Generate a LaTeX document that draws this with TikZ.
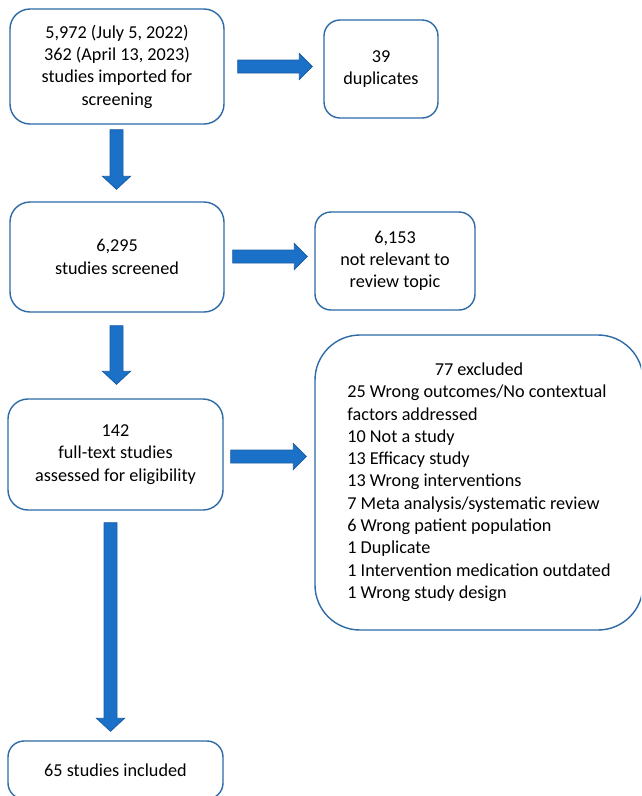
\documentclass[tikz,border=0pt]{standalone}
\usepackage{fontspec}
\setmainfont{Carlito}
\usetikzlibrary{calc}
\definecolor{boxline}{HTML}{2E6AA6}
\definecolor{arrfill}{HTML}{1B70C8}
\definecolor{arrline}{HTML}{1A5EA5}
\tikzset{
  box/.style={draw=boxline, line width=1.4pt, rounded corners=#1, fill=white,
    align=center, inner sep=0pt, font=\fontsize{18.2}{22.3}\selectfont},
  blockarr/.style={fill=arrfill, draw=arrline, line width=0.8pt, line join=miter}
}
\newcommand\harr[2]{\filldraw[blockarr] let \p1=(#1), \p2=(#2) in
  (\x1,\y1+6.5pt) -- (\x2-13pt,\y1+6.5pt) -- (\x2-13pt,\y1+13pt) -- (\x2,\y1)
  -- (\x2-13pt,\y1-13pt) -- (\x2-13pt,\y1-6.5pt) -- (\x1,\y1-6.5pt) -- cycle;}
\newcommand\varr[2]{\filldraw[blockarr] let \p1=(#1), \p2=(#2) in
  (\x1-6.5pt,\y1) -- (\x1-6.5pt,\y2+13pt) -- (\x1-14pt,\y2+13pt) -- (\x1,\y2)
  -- (\x1+14pt,\y2+13pt) -- (\x1+6.5pt,\y2+13pt) -- (\x1+6.5pt,\y1) -- cycle;}
\begin{document}
\begin{tikzpicture}[x=1pt,y=-1pt]
\useasboundingbox (0,0) rectangle (641,796);
\clip (0,0) rectangle (641,796);
\fill[white] (0,0) rectangle (641,796);
% boxes
\node[box=20pt, minimum width=214pt, minimum height=115pt] (b1) at (117,66.5)
  {5,972 (July 5, 2022)\\362 (April 13, 2023)\\studies imported for\\screening};
\node[box=16pt, minimum width=114pt, minimum height=98pt] (b2) at (381,69)
  {39\\duplicates};
\node[box=20pt, minimum width=214pt, minimum height=110pt] (b3) at (117,257)
  {6,295\\studies screened};
\node[box=16pt, minimum width=160pt, minimum height=98pt] (b4) at (395,261)
  {6,153\\not relevant to\\review topic};
\node[box=20pt, minimum width=215pt, minimum height=111pt] (b5) at (115.5,454.5)
  {142\\full-text studies\\assessed for eligibility};
\node[box=45pt, minimum width=328pt, minimum height=295pt] (b6) at (479,482.5)
  {\begin{tabular}{@{}l@{}}
   \multicolumn{1}{@{}c@{}}{77 excluded}\\
   25 Wrong outcomes/No contextual\\
   factors addressed\\
   10 Not a study\\
   13 Efficacy study\\
   13 Wrong interventions\\
   7 Meta analysis/systematic review\\
   6 Wrong patient population\\
   1 Duplicate\\
   1 Intervention medication outdated\\
   1 Wrong study design
   \end{tabular}};
\node[box=16pt, minimum width=215pt, minimum height=58pt] (b7) at (115.5,770)
  {65 studies included};
% arrows
\harr{$(b1.east)+(13,0)$}{$(b2.west)+(-11,0)$}
\harr{$(b3.east)+(8,-0.5)$}{$(b4.west)+(-7,0)$}
\harr{$(b5.east)+(7,2)$}{$(b6.west)+(-8,0)$}
\varr{$(b1.south)+(-0.5,5)$}{$(b3.north)+(0,-12)$}
\varr{$(b3.south)+(-0.5,13)$}{$(b5.north)+(0,-14)$}
\varr{$(b5.south)+(-5,12)$}{$(b7.north)+(-5,-9)$}
\end{tikzpicture}
\end{document}
